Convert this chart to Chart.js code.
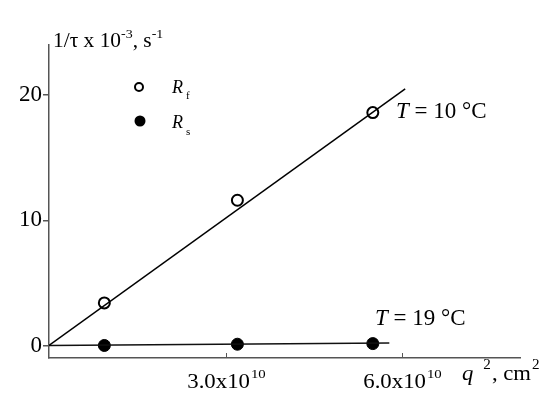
<!DOCTYPE html>
<html>
<head>
<meta charset="utf-8">
<script src="https://cdn.jsdelivr.net/npm/chart.js@4"></script>
<style>
  html, body { margin: 0; padding: 0; background: #fff; }
</style>
</head>
<body>
<canvas id="grafico" width="550" height="405"></canvas>
<script>
  // q^2 (cm^-2) e 1/tau x 10^-3 (s^-1)
  const qQuadrado = [0.94e10, 3.2e10, 5.5e10];
  const taxaRf = [3.4, 11.6, 18.6];
  const taxaRs = [0.0, 0.1, 0.15];

  // retas ajustadas (inicio e fim)
  const retaRfX = [0, 6.05e10];
  const retaRfY = [0, 20.5];
  const retaRsX = [0, 5.78e10];
  const retaRsY = [0, 0.2];

  const ticksX = [3.0e10, 6.0e10];
  const ticksY = [0, 10, 20];
  const rotulosX = ['3.0x10', '6.0x10'];

  const serif = '"Liberation Serif", "Times New Roman", serif';
  const pares = (xs, ys) => xs.map((x, i) => ({ x, y: ys[i] }));

  // textos com sobrescrito / subscrito (k = esticar na horizontal)
  function escreverPartes(ctx, x, y, partes, k = 1) {
    let cx = x;
    partes.forEach(p => {
      ctx.font = (p.italic ? 'italic ' : '') + p.size + 'px ' + serif;
      ctx.save();
      ctx.translate(cx, y + (p.dy || 0));
      ctx.scale(k, 1);
      ctx.fillText(p.t, 0, 0);
      ctx.restore();
      cx += ctx.measureText(p.t).width * k + (p.gap || 0);
    });
    return cx;
  }

  function larguraPartes(ctx, partes, k = 1) {
    return partes.reduce((acc, p) => {
      ctx.font = (p.italic ? 'italic ' : '') + p.size + 'px ' + serif;
      return acc + ctx.measureText(p.t).width * k + (p.gap || 0);
    }, 0);
  }

  const desenhoExtra = {
    id: 'desenhoExtra',
    afterDraw(chart) {
      const ctx = chart.ctx;
      const sx = chart.scales.x;
      const area = chart.chartArea;
      ctx.save();
      ctx.fillStyle = '#000';
      ctx.textBaseline = 'alphabetic';

      // marcas do eixo x (para dentro) e rotulos
      ctx.strokeStyle = '#555';
      ctx.lineWidth = 1;
      ticksX.forEach((v, i) => {
        const px = Math.round(sx.getPixelForValue(v)) + 0.5;
        ctx.beginPath();
        ctx.moveTo(px, area.bottom);
        ctx.lineTo(px, area.bottom - 5);
        ctx.stroke();
        const partes = [
          { t: rotulosX[i], size: 20, gap: 1 },
          { t: '10', size: 13, dy: -10 }
        ];
        const w = larguraPartes(ctx, partes, 1.14);
        escreverPartes(ctx, px - w / 2, 388, partes, 1.14);
      });

      // titulo eixo y
      escreverPartes(ctx, 53, 47, [
        { t: '1/\u03C4 x 10', size: 20 },
        { t: '-3', size: 13, dy: -9 },
        { t: ', s', size: 20 },
        { t: '-1', size: 13, dy: -9 }
      ], 1.07);

      // titulo eixo x
      escreverPartes(ctx, 462, 380, [
        { t: 'q', size: 21, italic: true, gap: 10 },
        { t: '2', size: 14, dy: -11, gap: 1 },
        { t: ', cm', size: 21, gap: 1 },
        { t: '2', size: 14, dy: -11 }
      ], 1.08);

      // anotacoes de temperatura
      escreverPartes(ctx, 396, 118, [
        { t: 'T', size: 23, italic: true },
        { t: ' = 10 \u00B0C', size: 23 }
      ]);
      escreverPartes(ctx, 375, 325, [
        { t: 'T', size: 23, italic: true },
        { t: ' = 19 \u00B0C', size: 23 }
      ]);

      // legenda
      ctx.lineWidth = 2;
      ctx.strokeStyle = '#000';
      ctx.beginPath();
      ctx.arc(139, 87, 4, 0, Math.PI * 2);
      ctx.fillStyle = '#fff';
      ctx.fill();
      ctx.stroke();
      ctx.fillStyle = '#000';
      ctx.beginPath();
      ctx.arc(140, 121, 5.5, 0, Math.PI * 2);
      ctx.fill();
      escreverPartes(ctx, 172, 93, [
        { t: 'R', size: 18, italic: true, gap: 3 },
        { t: 'f', size: 11, dy: 6 }
      ]);
      escreverPartes(ctx, 172, 128, [
        { t: 'R', size: 18, italic: true, gap: 3 },
        { t: 's', size: 11, dy: 7 }
      ]);
      ctx.restore();
    }
  };

  const ctx = document.getElementById('grafico').getContext('2d');
  const chart = new Chart(ctx, {
    type: 'scatter',
    data: {
      datasets: [
        {
          label: 'Rf ajuste', type: 'line', data: pares(retaRfX, retaRfY),
          borderColor: '#000', borderWidth: 1.5, pointRadius: 0, fill: false
        },
        {
          label: 'Rs ajuste', type: 'line', data: pares(retaRsX, retaRsY),
          borderColor: '#111', borderWidth: 1.5, pointRadius: 0, fill: false
        },
        {
          label: 'Rf', data: pares(qQuadrado, taxaRf),
          pointRadius: 5.5, pointBorderWidth: 2, pointBackgroundColor: '#fff', pointBorderColor: '#000'
        },
        {
          label: 'Rs', data: pares(qQuadrado, taxaRs),
          pointRadius: 6, pointBorderWidth: 1, pointBackgroundColor: '#000', pointBorderColor: '#000'
        }
      ]
    },
    options: {
      responsive: false,
      animation: false,
      devicePixelRatio: 1,
      layout: { padding: { left: 0, top: 45, right: 30, bottom: 0 } },
      plugins: { legend: { display: false }, tooltip: { enabled: false } },
      scales: {
        x: {
          type: 'linear', min: 0, max: 8.0e10,
          afterFit: s => { s.height = 47; },
          afterBuildTicks: s => { s.ticks = ticksX.map(v => ({ value: v })); },
          grid: { display: false },
          border: { display: true, color: '#555', width: 1.5 },
          ticks: { display: false }
        },
        y: {
          type: 'linear', min: -1, max: 24,
          afterFit: s => { s.width = 49; },
          afterBuildTicks: s => { s.ticks = ticksY.map(v => ({ value: v })); },
          grid: { drawOnChartArea: false, drawTicks: true, tickLength: 6, color: '#555', lineWidth: 1.5 },
          border: { display: true, color: '#555', width: 1.5 },
          ticks: { color: '#000', padding: 1, font: { family: serif, size: 23 } }
        }
      }
    },
    plugins: [desenhoExtra]
  });
</script>
</body>
</html>
